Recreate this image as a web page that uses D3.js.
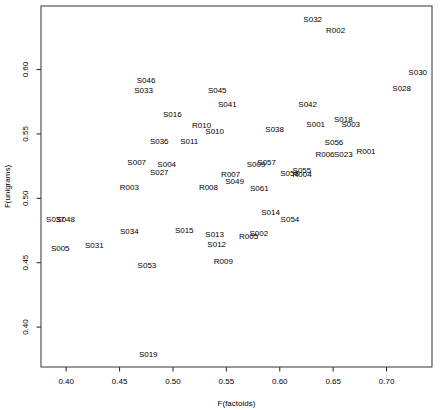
<!DOCTYPE html>
<html lang="en">
<head>
    <meta charset="UTF-8">
    <title>F(unigrams) vs F(factoids)</title>
    <script src="https://d3js.org/d3.v7.min.js"></script>
    <style>
        body { margin: 0; background: #fff; font-family: "Liberation Sans", Arial, sans-serif; }
        text { font-size: 8px; fill: #000; }
    </style>
</head>
<body>
    <svg width="440" height="410"></svg>
    <script>
// Data
const labels = ['S032','R002','S030','S028','S045','S041','S042','S001','S018','S003',
  'S038','S010','R010','S011','S036','S046','S033','S016','S007','S004',
  'S027','R003','R008','S037','S048','S034','S015','S005','S031','S053',
  'S019','S056','R006','S023','R001','S009','S057','R007','S049','S061',
  'S058','R004','S055','S014','S054','S013','S012','R005','S002','R009'];
const fFactoids = [0.6313,0.6528,0.7296,0.7146,0.5419,0.5513,0.6266,0.6341,0.6599,0.6669,
  0.5957,0.5395,0.5273,0.5157,0.4876,0.4752,0.4730,0.4998,0.4665,0.4946,
  0.4876,0.4596,0.5337,0.3904,0.4000,0.4596,0.5110,0.3949,0.4268,0.4761,
  0.4773,0.6512,0.6428,0.6599,0.6812,0.5782,0.5882,0.5545,0.5582,0.5813,
  0.6097,0.6214,0.6212,0.5919,0.6100,0.5395,0.5414,0.5713,0.5808,0.5476];
const fUnigrams = [0.6387,0.6302,0.5972,0.5855,0.5837,0.5729,0.5729,0.5571,0.5612,0.5571,
  0.5532,0.5521,0.5563,0.5443,0.5443,0.5910,0.5837,0.5653,0.5280,0.5262,
  0.5198,0.5086,0.5081,0.4832,0.4832,0.4743,0.4749,0.4607,0.4632,0.4479,
  0.3787,0.5433,0.5340,0.5340,0.5363,0.5262,0.5280,0.5187,0.5130,0.5075,
  0.5194,0.5187,0.5213,0.4889,0.4832,0.4715,0.4638,0.4702,0.4723,0.4505];
const xTicks = [0.40, 0.45, 0.50, 0.55, 0.60, 0.65, 0.70];
const yTicks = [0.40, 0.45, 0.50, 0.55, 0.60];

const margin = { top: 6, right: 8, bottom: 43, left: 41 },
      width = 440 - margin.left - margin.right,
      height = 410 - margin.top - margin.bottom;

const svg = d3.select('svg')
  .append('g')
    .attr('transform', `translate(${margin.left}, ${margin.top})`);

const x = d3.scaleLinear()
    .domain([0.3769, 0.7430])
    .range([0, width]);

const y = d3.scaleLinear()
    .domain([0.3686, 0.6490])
    .range([height, 0]);

// Axes, R style: outward ticks, rotated y labels
const xAxis = svg.append('g')
    .attr('transform', `translate(0, ${height})`)
    .call(d3.axisBottom(x).tickValues(xTicks).tickFormat(d3.format('.2f')).tickSize(4.5).tickPadding(7));

const yAxis = svg.append('g')
    .call(d3.axisLeft(y).tickValues(yTicks).tickFormat(d3.format('.2f')).tickSize(4.5).tickPadding(7));

[xAxis, yAxis].forEach(a => {
  a.select('.domain').remove();
  a.selectAll('line').attr('stroke', '#222');
  a.selectAll('text').style('font-size', '8px').attr('fill', '#222')
    .style('font-family', '"Liberation Sans", Arial, sans-serif');
});

yAxis.selectAll('.tick text')
    .attr('text-anchor', 'middle')
    .attr('x', null).attr('dy', null)
    .attr('transform', 'translate(-13, 0) rotate(-90)');

// Box
svg.append('rect')
    .attr('width', width)
    .attr('height', height)
    .attr('fill', 'none')
    .attr('stroke', '#333')
    .attr('stroke-width', 1);

// Axis titles
svg.append('text')
    .attr('x', width / 2)
    .attr('y', height + 39)
    .attr('text-anchor', 'middle')
    .text('F(factoids)');

svg.append('text')
    .attr('transform', `translate(-31, ${height / 2}) rotate(-90)`)
    .attr('text-anchor', 'middle')
    .text('F(unigrams)');

// Point labels
svg.selectAll('.lbl')
    .data(labels)
  .enter().append('text')
    .attr('class', 'lbl')
    .attr('x', (d, i) => x(fFactoids[i]))
    .attr('y', (d, i) => y(fUnigrams[i]))
    .attr('dy', '0.35em')
    .attr('text-anchor', 'middle')
    .text(d => d);
    </script>
</body>
</html>
